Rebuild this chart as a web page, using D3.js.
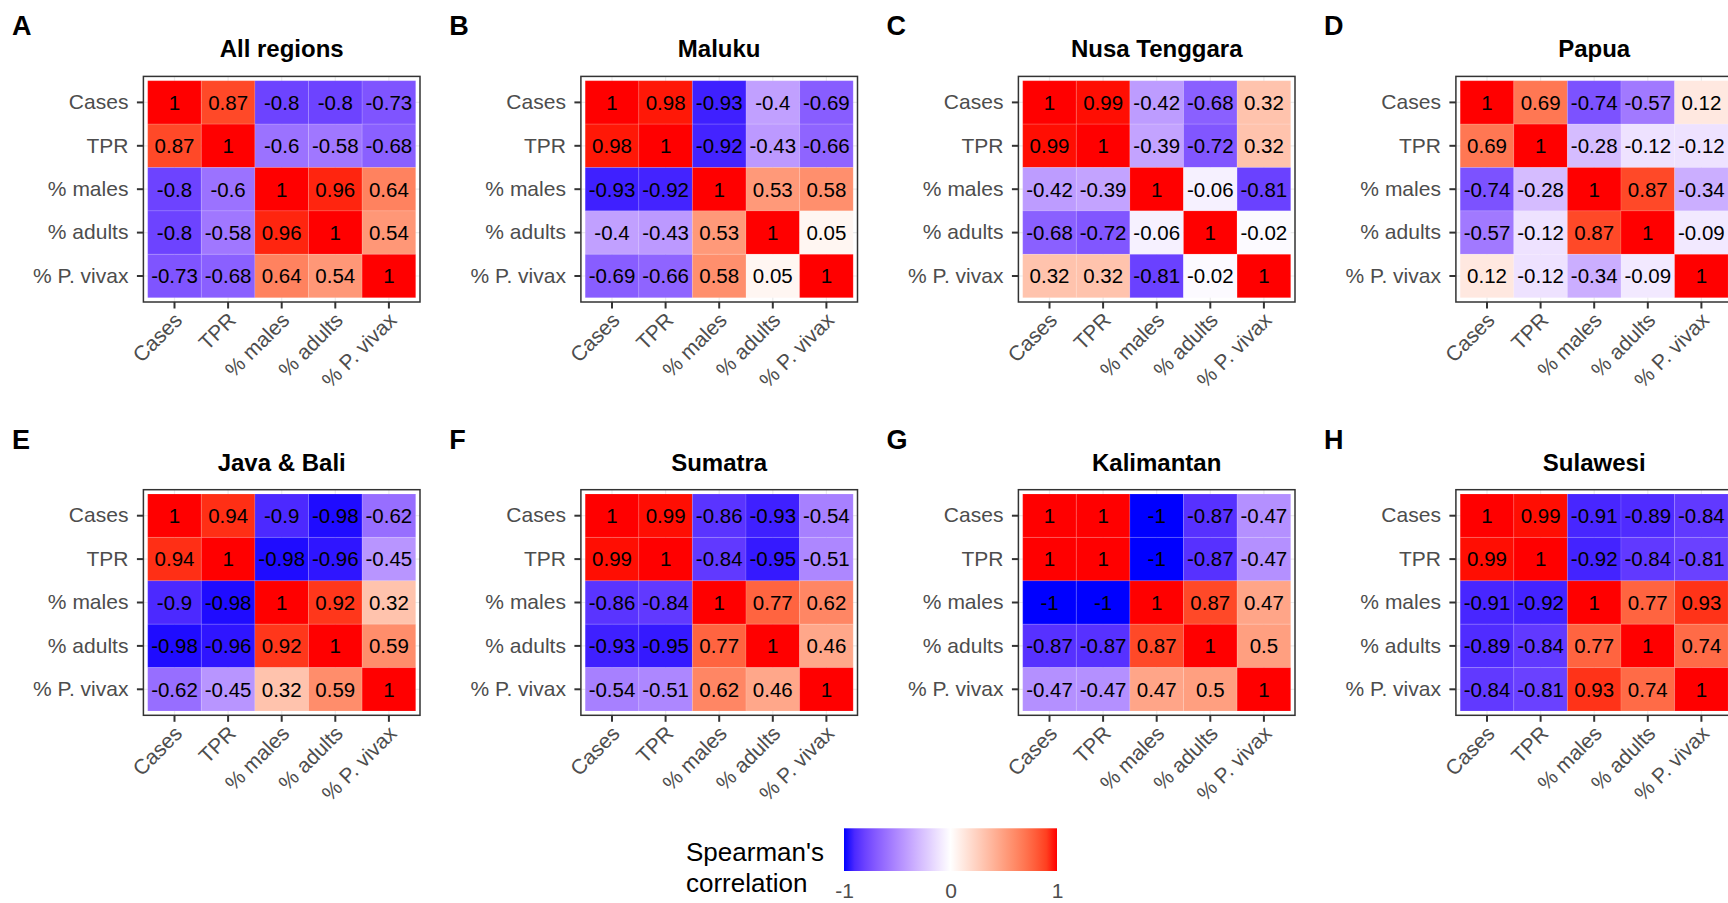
<!DOCTYPE html>
<html>
<head>
<meta charset="utf-8">
<script src="https://cdn.jsdelivr.net/npm/d3@7"></script>
<style>
  body { margin:0; background:#fff; }
  svg { font-family:"Liberation Sans", Arial, sans-serif; }
</style>
</head>
<body>
<script>

// variables on both axes
var vars = ["Cases","TPR","% males","% adults","% P. vivax"];

var regions = ["All regions","Maluku","Nusa Tenggara","Papua","Java & Bali","Sumatra","Kalimantan","Sulawesi"];
var letters = ["A","B","C","D","E","F","G","H"];

// correlation matrices, rows/cols in order of vars
var allRegions = [
  [1, 0.87, -0.8, -0.8, -0.73],
  [0.87, 1, -0.6, -0.58, -0.68],
  [-0.8, -0.6, 1, 0.96, 0.64],
  [-0.8, -0.58, 0.96, 1, 0.54],
  [-0.73, -0.68, 0.64, 0.54, 1]
];
var maluku = [
  [1, 0.98, -0.93, -0.4, -0.69],
  [0.98, 1, -0.92, -0.43, -0.66],
  [-0.93, -0.92, 1, 0.53, 0.58],
  [-0.4, -0.43, 0.53, 1, 0.05],
  [-0.69, -0.66, 0.58, 0.05, 1]
];
var nusaTenggara = [
  [1, 0.99, -0.42, -0.68, 0.32],
  [0.99, 1, -0.39, -0.72, 0.32],
  [-0.42, -0.39, 1, -0.06, -0.81],
  [-0.68, -0.72, -0.06, 1, -0.02],
  [0.32, 0.32, -0.81, -0.02, 1]
];
var papua = [
  [1, 0.69, -0.74, -0.57, 0.12],
  [0.69, 1, -0.28, -0.12, -0.12],
  [-0.74, -0.28, 1, 0.87, -0.34],
  [-0.57, -0.12, 0.87, 1, -0.09],
  [0.12, -0.12, -0.34, -0.09, 1]
];
var javaBali = [
  [1, 0.94, -0.9, -0.98, -0.62],
  [0.94, 1, -0.98, -0.96, -0.45],
  [-0.9, -0.98, 1, 0.92, 0.32],
  [-0.98, -0.96, 0.92, 1, 0.59],
  [-0.62, -0.45, 0.32, 0.59, 1]
];
var sumatra = [
  [1, 0.99, -0.86, -0.93, -0.54],
  [0.99, 1, -0.84, -0.95, -0.51],
  [-0.86, -0.84, 1, 0.77, 0.62],
  [-0.93, -0.95, 0.77, 1, 0.46],
  [-0.54, -0.51, 0.62, 0.46, 1]
];
var kalimantan = [
  [1, 1, -1, -0.87, -0.47],
  [1, 1, -1, -0.87, -0.47],
  [-1, -1, 1, 0.87, 0.47],
  [-0.87, -0.87, 0.87, 1, 0.5],
  [-0.47, -0.47, 0.47, 0.5, 1]
];
var sulawesi = [
  [1, 0.99, -0.91, -0.89, -0.84],
  [0.99, 1, -0.92, -0.84, -0.81],
  [-0.91, -0.92, 1, 0.77, 0.93],
  [-0.89, -0.84, 0.77, 1, 0.74],
  [-0.84, -0.81, 0.93, 0.74, 1]
];

var matrices = [allRegions, maluku, nusaTenggara, papua, javaBali, sumatra, kalimantan, sulawesi];

var color = d3.scaleLinear()
  .domain([-1,0,1])
  .range(["blue","white","red"])
  .interpolate(d3.interpolateLab);

var svg = d3.select("body").append("svg")
  .attr("width",1728)
  .attr("height",903);

var cellW = 53.6, cellH = 43.4, pad = 4.3;

var drawPanel = function(i)
{
  var c = i % 4, r = Math.floor(i/4);
  var right = 415.7 + 437.5*c;
  var top = 80.7 + 413.3*r;

  var xScale = d3.scaleBand().domain(vars).range([right - 5*cellW, right]);
  var yScale = d3.scaleBand().domain(vars).range([top, top + 5*cellH]);

  var x0 = xScale.range()[0] - pad, x1 = right + pad;
  var y0 = top - pad, y1 = top + 5*cellH + pad;

  var g = svg.append("g").classed("panel",true);

  // letter + title
  g.append("text")
    .attr("x", 12 + 437.3*c)
    .attr("y", 35 + 414*r)
    .style("font-size","27px")
    .style("font-weight","bold")
    .text(letters[i]);

  g.append("text")
    .attr("x", (xScale.range()[0] + right)/2)
    .attr("y", top - 23.4)
    .attr("text-anchor","middle")
    .style("font-size","24px")
    .style("font-weight","bold")
    .text(regions[i]);

  // background + grid
  g.append("rect")
    .attr("x",x0).attr("y",y0)
    .attr("width",x1-x0).attr("height",y1-y0)
    .attr("fill","white");

  g.selectAll("line.gx")
    .data(vars).enter().append("line")
    .attr("x1",function(d){return xScale(d)+xScale.bandwidth()/2;})
    .attr("x2",function(d){return xScale(d)+xScale.bandwidth()/2;})
    .attr("y1",y0).attr("y2",y1)
    .attr("stroke","#ebebeb").attr("stroke-width",1.2);
  g.selectAll("line.gy")
    .data(vars).enter().append("line")
    .attr("y1",function(d){return yScale(d)+yScale.bandwidth()/2;})
    .attr("y2",function(d){return yScale(d)+yScale.bandwidth()/2;})
    .attr("x1",x0).attr("x2",x1)
    .attr("stroke","#ebebeb").attr("stroke-width",1.2);

  var cells = [];
  matrices[i].forEach(function(row,ri){
    row.forEach(function(v,ci){
      cells.push({row:vars[ri], col:vars[ci], value:v});
    });
  });

  g.selectAll("rect.cell")
    .data(cells).enter().append("rect")
    .classed("cell",true)
    .attr("x",function(d){return xScale(d.col);})
    .attr("y",function(d){return yScale(d.row);})
    .attr("width",xScale.bandwidth())
    .attr("height",yScale.bandwidth())
    .attr("fill",function(d){return color(d.value);})
    .attr("stroke","white")
    .attr("stroke-opacity",0.12)
    .attr("stroke-width",1);

  g.selectAll("text.val")
    .data(cells).enter().append("text")
    .classed("val",true)
    .attr("x",function(d){return xScale(d.col)+xScale.bandwidth()/2;})
    .attr("y",function(d){return yScale(d.row)+yScale.bandwidth()/2;})
    .attr("dy","0.36em")
    .attr("text-anchor","middle")
    .style("font-size","20.5px")
    .attr("fill","black")
    .text(function(d){return String(d.value);});

  // border
  g.append("rect")
    .attr("x",x0).attr("y",y0)
    .attr("width",x1-x0).attr("height",y1-y0)
    .attr("fill","none")
    .attr("stroke","#333")
    .attr("stroke-width",1.5);

  // axes
  var yAxis = g.append("g")
    .attr("transform","translate("+x0+",0)")
    .call(d3.axisLeft(yScale).tickSize(6.5).tickSizeOuter(0).tickPadding(8.5));
  var xAxis = g.append("g")
    .attr("transform","translate(0,"+y1+")")
    .call(d3.axisBottom(xScale).tickSize(6.5).tickSizeOuter(0));

  [yAxis,xAxis].forEach(function(a){
    a.select(".domain").remove();
    a.selectAll(".tick line").attr("stroke","#333").attr("stroke-width",2);
    a.selectAll(".tick text")
      .attr("fill","#4d4d4d")
      .style("font-size","21px")
      .style("font-family","'Liberation Sans', Arial, sans-serif");
  });

  xAxis.selectAll(".tick text")
    .attr("x",0).attr("y",0).attr("dy",0)
    .attr("text-anchor","end")
    .attr("transform","translate(9,19.5) rotate(-45)");
}

regions.forEach(function(d,i){ drawPanel(i); });

// legend
var legX = d3.scaleLinear().domain([-1,1]).range([844,1057]);

var grad = svg.append("defs").append("linearGradient")
  .attr("id","corrGrad")
  .attr("x1","0%").attr("x2","100%").attr("y1","0%").attr("y2","0%");
grad.selectAll("stop")
  .data(d3.range(0,21))
  .enter().append("stop")
  .attr("offset",function(d){return (d*5)+"%";})
  .attr("stop-color",function(d){return color(-1 + d/10);});

var legend = svg.append("g").classed("legend",true);

legend.append("rect")
  .attr("x",legX(-1)).attr("y",828.3)
  .attr("width",legX(1)-legX(-1)).attr("height",42.7)
  .attr("fill","url(#corrGrad)");

legend.append("text")
  .attr("x",686).attr("y",860.5)
  .style("font-size","26px")
  .text("Spearman's");
legend.append("text")
  .attr("x",686).attr("y",891.5)
  .style("font-size","26px")
  .text("correlation");

var legAxis = legend.append("g")
  .attr("transform","translate(0,871)")
  .call(d3.axisBottom(legX).tickValues([-1,0,1]).tickSize(0).tickPadding(12).tickFormat(d3.format("d")));
legAxis.select(".domain").remove();
legAxis.selectAll(".tick text")
  .attr("fill","#4d4d4d")
  .style("font-size","21px")
  .style("font-family","'Liberation Sans', Arial, sans-serif")
  .text(function(d){return d < 0 ? "-1" : String(d);});

</script>
</body>
</html>
